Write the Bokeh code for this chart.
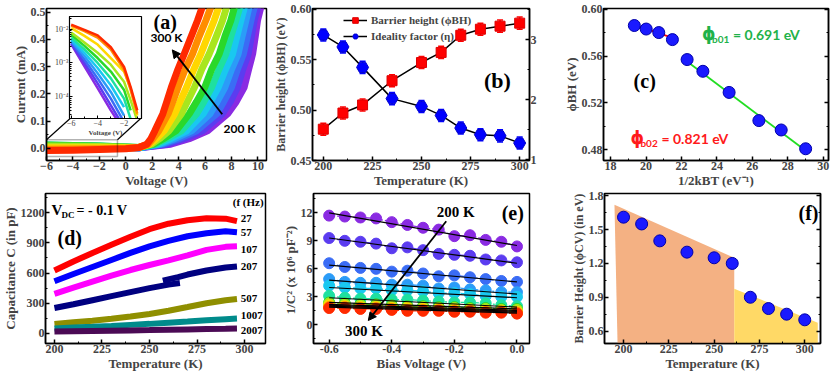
import math
from bokeh.plotting import figure
from bokeh.models import (GridBox, Range1d, LinearAxis, SingleIntervalTicker, Label, Arrow, NormalHead,
                          Whisker, TeeHead, ColumnDataSource, Legend, LegendItem, CustomJSTickFormatter,
                          PrintfTickFormatter, BoxAnnotation, Title)
from bokeh.embed import file_html
from bokeh.resources import INLINE

SERIF = "Liberation Serif"
SANS = "Lato"

# ---------------- data ----------------
temps = [200, 210, 220, 230, 240, 250, 260, 270, 280, 290, 300]
palette = ["#8a2be2", "#5b3cf0", "#3a6cf5", "#2b9cf8", "#19c8f0", "#1ee0a0",
           "#2ad82a", "#a8e61e", "#ffd700", "#ff8c00", "#ff2a00"]

# (a) forward I-V: voltage reached at each current level, 200 K ... 300 K
iv_levels = [0.015, 0.035, 0.064, 0.126, 0.17, 0.224, 0.29, 0.346, 0.41, 0.469, 0.513]
iv_v_at_levels = [
    [3.4, 4.8, 6.19, 7.7, 8.35, 8.96, 9.3, 9.6, 9.8, 9.97, 10.2],
    [3.1, 4.4, 5.8, 7.3, 7.9, 8.45, 8.85, 9.26, 9.5, 9.72, 9.95],
    [2.8, 4.0, 5.35, 6.87, 7.4, 8.0, 8.45, 8.9, 9.2, 9.47, 9.7],
    [2.6, 3.7, 4.97, 6.36, 6.9, 7.5, 8.0, 8.5, 8.8, 9.09, 9.3],
    [2.4, 3.4, 4.6, 5.85, 6.4, 7.0, 7.55, 8.08, 8.4, 8.71, 8.95],
    [2.25, 3.1, 4.2, 5.35, 5.9, 6.5, 7.05, 7.57, 7.95, 8.33, 8.6],
    [2.1, 2.85, 3.8, 4.8, 5.35, 5.98, 6.5, 7.07, 7.5, 7.95, 8.2],
    [1.95, 2.55, 3.27, 4.2, 4.65, 5.2, 5.75, 6.31, 6.85, 7.32, 7.6],
    [1.8, 2.3, 2.9, 3.7, 4.1, 4.6, 5.15, 5.68, 6.2, 6.69, 7.0],
    [1.7, 2.05, 2.5, 3.2, 3.55, 3.96, 4.5, 5.05, 5.55, 6.06, 6.4],
    [1.6, 1.9, 2.2, 2.8, 3.1, 3.45, 3.95, 4.42, 4.95, 5.43, 5.75],
]
iv_flat_v = [-6, -4, -2, 0, 1.0]
iv_flat_i = [
    [0.004, 0.004, 0.003, 0.002, 0.002],
    [0.006, 0.005, 0.004, 0.003, 0.002],
    [0.008, 0.007, 0.005, 0.003, 0.002],
    [0.010, 0.008, 0.006, 0.004, 0.002],
    [0.011, 0.009, 0.007, 0.004, 0.002],
    [0.012, 0.010, 0.008, 0.005, 0.003],
    [0.012, 0.010, 0.008, 0.005, 0.003],
    [0.008, 0.007, 0.006, 0.004, 0.003],
    [0.002, 0.002, 0.002, 0.002, 0.003],
    [-0.004, -0.003, -0.002, 0.000, 0.003],
    [-0.008, -0.007, -0.005, -0.002, 0.003],
]
# inset: reverse current (log scale)
inset_v = [-6, -5, -4, -3, -2, -1.5, -1]
inset_i = [
    [3.6e-3, 7.9e-4, 1.8e-4, 4.0e-5, 1.0e-5],
    [3.8e-3, 1.0e-3, 2.5e-4, 5.6e-5, 1.26e-5],
    [4.2e-3, 1.26e-3, 3.5e-4, 8.9e-5, 1.8e-5],
    [4.5e-3, 1.6e-3, 5.0e-4, 1.4e-4, 2.8e-5],
    [5.0e-3, 2.0e-3, 7.1e-4, 2.2e-4, 5.0e-5],
    [5.6e-3, 2.5e-3, 1.0e-3, 3.5e-4, 8.9e-5, 2.2e-5],
    [6.8e-3, 3.2e-3, 1.4e-3, 5.6e-4, 1.6e-4, 4.0e-5],
    [7.9e-3, 4.0e-3, 2.0e-3, 8.9e-4, 2.8e-4, 7.9e-5, 2.0e-5],
    [1.07e-2, 6.3e-3, 3.5e-3, 1.4e-3, 5.6e-4, 1.8e-4, 2.8e-5],
    [1.26e-2, 8.7e-3, 5.6e-3, 2.5e-3, 6.3e-4, 1.6e-4, 3.2e-5],
    [1.35e-2, 9.5e-3, 6.5e-3, 2.9e-3, 7.6e-4, 1.95e-4, 4.0e-5],
]
zoom_box = dict(left=-6.0, right=-0.63, bottom=-0.030, top=0.031)
zoom_seg_x0 = [-6.0, -0.63]
zoom_seg_y0 = [0.031, 0.031]
zoom_seg_x1 = [-4.15, 1.19]
zoom_seg_y1 = [0.112, 0.112]

# (b)
t_b = [200, 210, 220, 235, 250, 260, 270, 280, 290, 300]
phi_bh = [0.481, 0.497, 0.505, 0.529, 0.547, 0.557, 0.574, 0.580, 0.583, 0.586]
phi_bh_err = [0.006] * 10
eta = [3.08, 2.88, 2.54, 2.02, 1.89, 1.74, 1.53, 1.42, 1.40, 1.28]
eta_err = [0.1] * 10

# (c)
inv_2kt = [19.34, 20.01, 20.72, 21.49, 22.32, 23.21, 24.69, 26.37, 27.63, 29.01]
phi_c = [0.586, 0.583, 0.580, 0.574, 0.557, 0.547, 0.529, 0.505, 0.497, 0.481]
fit1_x = [19.35, 21.5]
fit1_y = [0.5865, 0.5755]
fit2_x = [22.3, 29.0]
fit2_y = [0.5555, 0.4795]

# (d)
t_d = [200, 210, 220, 230, 240, 250, 260, 270, 280, 290, 296]
freqs = ["27", "57", "107", "207", "507", "1007", "2007"]
freq_colors = ["#ff0000", "#0000ff", "#ff00ff", "#000080", "#8f8f00", "#008b8b", "#4b0a55"]
cap = {
    "27": [625, 715, 800, 880, 960, 1035, 1090, 1125, 1145, 1140, 1115],
    "57": [519, 590, 660, 730, 800, 865, 920, 965, 995, 1015, 1005],
    "107": [392, 455, 515, 575, 630, 680, 725, 775, 830, 860, 865],
    "507": [93, 110, 125, 145, 168, 193, 225, 262, 300, 330, 342],
    "1007": [50, 58, 66, 75, 85, 95, 107, 118, 130, 142, 148],
    "2007": [18, 21, 24, 27, 30, 33, 37, 40, 43, 46, 48],
}
t_d207a = [200, 210, 220, 230, 240, 250, 260, 266]
c207a = [253, 290, 330, 370, 410, 450, 485, 500]
t_d207b = [257, 265, 270, 280, 290, 296]
c207b = [525, 560, 585, 625, 655, 665]
freq_label_y = [1146, 1001, 831, 665, 343, 176, 27]

# (e)
v_e = [-0.6, -0.55, -0.5, -0.45, -0.4, -0.35, -0.3, -0.25, -0.2, -0.15, -0.1, -0.05, 0.0]
inv_c2 = [
    [11.7, 11.6, 11.5, 11.4, 11.0, 10.7, 10.4, 10.2, 9.5, 9.6, 9.1, 8.9, 8.4],
    [9.3, 9.0, 8.9, 8.7, 8.2, 8.3, 8.0, 7.6, 7.5, 7.4, 7.0, 6.9, 6.7],
    [6.6, 6.2, 6.1, 6.0, 5.7, 5.8, 5.5, 5.2, 5.3, 5.1, 4.9, 4.7, 4.6],
    [4.9, 4.6, 4.5, 4.5, 4.3, 4.3, 4.2, 3.9, 4.0, 3.8, 3.7, 3.5, 3.5],
    [4.2, 4.0, 3.9, 3.9, 3.7, 3.7, 3.6, 3.4, 3.4, 3.3, 3.1, 3.0, 3.0],
    [3.1, 2.9, 2.8, 2.8, 2.7, 2.7, 2.6, 2.5, 2.4, 2.4, 2.3, 2.1, 2.0],
    [2.4, 2.3, 2.2, 2.2, 2.1, 2.0, 2.0, 1.9, 1.9, 1.8, 1.8, 1.7, 1.7],
    [2.3, 2.2, 2.1, 2.1, 2.0, 1.9, 1.9, 1.8, 1.8, 1.7, 1.7, 1.6, 1.6],
    [2.1, 2.0, 1.9, 1.9, 1.8, 1.8, 1.7, 1.7, 1.6, 1.6, 1.5, 1.5, 1.4],
    [1.9, 1.9, 1.8, 1.8, 1.7, 1.6, 1.6, 1.6, 1.5, 1.5, 1.4, 1.4, 1.3],
    [1.8, 1.8, 1.7, 1.7, 1.6, 1.5, 1.5, 1.5, 1.4, 1.4, 1.3, 1.3, 1.2],
]
fit_e_x = [-0.6, 0.0]
fit_e_start = [12.0, 9.3, 6.4, 4.8, 4.0, 2.9, 2.4, 2.2, 2.1, 2.0, 1.9]
fit_e_end = [8.5, 6.6, 4.6, 3.3, 2.9, 1.9, 1.7, 1.55, 1.45, 1.35, 1.25]

# (f)
t_f = [200, 210, 220, 235, 250, 260, 270, 280, 290, 300]
phi_cv = [1.61, 1.55, 1.40, 1.30, 1.25, 1.20, 0.90, 0.80, 0.75, 0.70]
phi_cv_err = [0.02, 0.04, 0.04, 0.03, 0.03, 0.02, 0.02, 0.02, 0.02, 0.02]
region1_x = [195.0, 261.1, 261.1, 196.7]
region1_y = [1.72, 1.25, 0.49, 0.49]
region2_x = [261.1, 307.2, 307.2, 261.1]
region2_y = [0.976, 0.674, 0.49, 0.49]


# ---------------- helpers ----------------
def style_axis(ax, fs="12px", lfs="13px"):
    ax.major_label_text_font = SERIF
    ax.major_label_text_font_style = "bold"
    ax.major_label_text_font_size = fs
    ax.axis_label_text_font = SERIF
    ax.axis_label_text_font_style = "bold"
    ax.axis_label_text_font_size = lfs
    ax.major_tick_in = 4
    ax.major_tick_out = 0
    ax.minor_tick_in = 2
    ax.minor_tick_out = 0
    ax.axis_line_width = 1.5
    ax.major_tick_line_width = 1.5
    ax.major_label_standoff = 1
    ax.axis_label_standoff = 0


def no_align(p):
    try:
        p.frame_align = False
    except Exception:
        pass


def mkfig(w, h, xr, yr, bl, br, bt, bb, **kw):
    p = figure(width=w, height=h, x_range=Range1d(*xr), y_range=Range1d(*yr),
               output_backend="svg", toolbar_location=None,
               min_border_left=bl, min_border_right=br, min_border_top=bt, min_border_bottom=bb, **kw)
    no_align(p)
    p.xgrid.visible = False
    p.ygrid.visible = False
    p.outline_line_color = "black"
    p.outline_line_width = 1.5
    p.outline_line_alpha = 1
    for ax in list(p.xaxis) + list(p.yaxis):
        style_axis(ax)
    return p


def lab(p, x, y, text, size, font=SERIF, color="black", align="left", baseline="middle",
        xo=0, yo=0, style="bold", **kw):
    p.add_layout(Label(x=x, y=y, text=text, text_font=font, text_font_size=f"{size}px",
                       text_font_style=style, text_color=color, text_align=align,
                       text_baseline=baseline, x_offset=xo, y_offset=yo, **kw))


def mirror_right(p, ticker, range_name=None):
    kw = {"y_range_name": range_name} if range_name else {}
    ax = LinearAxis(ticker=ticker, **kw)
    style_axis(ax)
    ax.major_label_text_font_size = "0px"
    ax.major_label_standoff = 0
    p.add_layout(ax, "right")


# ---------------- (a) ----------------
pa = mkfig(270, 190, (-6.0, 10.65), (-0.045, 0.513), 46, 4, 8, 30)
pa.xaxis.ticker = SingleIntervalTicker(interval=2, num_minor_ticks=2)
pa.yaxis.ticker = SingleIntervalTicker(interval=0.1, num_minor_ticks=2)
pa.yaxis.formatter = PrintfTickFormatter(format="%.1f")
pa.xaxis.axis_label = "Voltage (V)"
pa.yaxis.axis_label = "Current (mA)"
for k in range(len(temps)):
    xs = iv_flat_v + iv_v_at_levels[k]
    ys = iv_flat_i[k] + iv_levels
    pa.line(xs, ys, line_color=palette[k], line_width=7, line_join="round", line_cap="round")
pa.add_layout(BoxAnnotation(fill_alpha=0, line_color="black", line_width=1.5, **zoom_box))
pa.segment(zoom_seg_x0, zoom_seg_y0, zoom_seg_x1, zoom_seg_y1, line_color="black", line_width=1.2)
pa.add_layout(Arrow(end=NormalHead(size=8, fill_color="black", line_color="black"),
                    x_start=7.3, y_start=0.125, x_end=3.52, y_end=0.361, line_width=1.8))
lab(pa, 1.87, 0.405, "300 K", 12, font=SANS)
lab(pa, 7.4, 0.073, "200 K", 12, font=SANS)
lab(pa, 2.1, 0.462, "(a)", 20)

# inset
pin = figure(width=143, height=144, x_range=Range1d(-6.13, -0.68), y_range=Range1d(2.3e-5, 2.35e-2),
             y_axis_type="log", output_backend="svg", toolbar_location=None,
             min_border_left=69, min_border_right=2, min_border_top=16, min_border_bottom=26)
no_align(pin)
pin.border_fill_alpha = 0
pin.background_fill_color = "white"
pin.xgrid.visible = False
pin.ygrid.visible = False
pin.outline_line_color = "black"
pin.outline_line_width = 1.2
for ax in list(pin.xaxis) + list(pin.yaxis):
    style_axis(ax, fs="8px", lfs="7px")
    ax.major_label_text_font_style = "normal"
    ax.major_tick_in = 3
    ax.axis_line_width = 1
    ax.major_tick_line_width = 1
    ax.major_label_standoff = 1
    ax.axis_label_standoff = 0
pin.xaxis.ticker = SingleIntervalTicker(interval=2, num_minor_ticks=2)
pin.xaxis.axis_label = "Voltage (V)"
pin.yaxis.formatter = CustomJSTickFormatter(code="""
const sup = {'-':'\u207b','0':'\u2070','1':'\u00b9','2':'\u00b2','3':'\u00b3','4':'\u2074','5':'\u2075','6':'\u2076'};
const e = Math.round(Math.log10(tick));
return '10' + String(e).split('').map(c => sup[c]).join('');
""")
for k in range(len(temps)):
    n = len(inset_i[k])
    pin.line(inset_v[:n], inset_i[k], line_color=palette[k], line_width=2.5)

# ---------------- (b) ----------------
pb = mkfig(287, 190, (194.5, 305), (0.45, 0.6005), 39, 28, 8, 30)
pb.extra_y_ranges = {"eta": Range1d(0.99, 3.52)}
pb.xaxis.ticker = SingleIntervalTicker(interval=25, num_minor_ticks=2)
pb.yaxis.ticker = SingleIntervalTicker(interval=0.05, num_minor_ticks=2)
pb.yaxis.formatter = PrintfTickFormatter(format="%.2f")
pb.xaxis.axis_label = "Temperature (K)"
pb.yaxis.axis_label = "Barrier height (\u03d5BH) (eV)"
pb.yaxis.axis_label_text_font_size = "12px"
ax2 = LinearAxis(y_range_name="eta", ticker=SingleIntervalTicker(interval=1, num_minor_ticks=2))
style_axis(ax2)
pb.add_layout(ax2, "right")
lab(pb, 313.1, 0.525, "Ideality factor (\u03b7)", 12, align="center", angle=math.pi / 2)

src_bh = ColumnDataSource(dict(x=t_b, y=phi_bh,
                               lo=[v - e for v, e in zip(phi_bh, phi_bh_err)],
                               hi=[v + e for v, e in zip(phi_bh, phi_bh_err)]))
src_eta = ColumnDataSource(dict(x=t_b, y=eta,
                                lo=[v - e for v, e in zip(eta, eta_err)],
                                hi=[v + e for v, e in zip(eta, eta_err)]))
l_bh = pb.line("x", "y", source=src_bh, line_color="black", line_width=1.5)
l_eta = pb.line("x", "y", source=src_eta, line_color="black", line_width=1.5, y_range_name="eta")
pb.add_layout(Whisker(source=src_bh, base="x", upper="hi", lower="lo", line_color="#ff0000", line_width=1.5,
                      upper_head=TeeHead(size=6, line_color="#ff0000", line_width=1.5),
                      lower_head=TeeHead(size=6, line_color="#ff0000", line_width=1.5)))
pb.add_layout(Whisker(source=src_eta, base="x", upper="hi", lower="lo", y_range_name="eta",
                      line_color="#0000ff", line_width=1.5,
                      upper_head=TeeHead(size=6, line_color="#0000ff", line_width=1.5),
                      lower_head=TeeHead(size=6, line_color="#0000ff", line_width=1.5)))
s_bh = pb.scatter("x", "y", source=src_bh, marker="square", size=10, fill_color="#ff0000", line_color="#dd0000")
s_eta = pb.scatter("x", "y", source=src_eta, marker="hex", size=12, fill_color="#0000ff", line_color="#0000cc",
                   y_range_name="eta")
leg = Legend(items=[LegendItem(label="Barrier height (\u03d5BH)", renderers=[l_bh, s_bh]),
                    LegendItem(label="Ideality factor (\u03b7)", renderers=[l_eta, s_eta])],
             location=(30, 116), background_fill_alpha=0, border_line_alpha=0,
             label_text_font=SERIF, label_text_font_style="bold", label_text_font_size="11px",
             glyph_width=24, glyph_height=14, label_height=15, spacing=1, padding=1, margin=0,
             label_standoff=4)
pb.add_layout(leg)
lab(pb, 281.8, 0.529, "(b)", 22)

# ---------------- (c) ----------------
pc = mkfig(274, 190, (17.6, 30.3), (0.471, 0.6005), 46, 3, 8, 30)
pc.xaxis.ticker = SingleIntervalTicker(interval=2, num_minor_ticks=2)
pc.yaxis.ticker = SingleIntervalTicker(interval=0.04, num_minor_ticks=2)
pc.yaxis.formatter = PrintfTickFormatter(format="%.2f")
pc.xaxis.axis_label = "1/2kBT (eV\u207b\u00b9)"
pc.yaxis.axis_label = "\u03d5BH (eV)"
mirror_right(pc, SingleIntervalTicker(interval=0.04, num_minor_ticks=2))
pc.line(fit1_x, fit1_y, line_color="#ff0000", line_width=1.8)
pc.line(fit2_x, fit2_y, line_color="#22dd22", line_width=1.8)
pc.scatter(inv_2kt, phi_c, marker="circle", size=12, fill_color="#1a1aff", line_color="#0000aa")
lab(pc, 23.16, 0.5786, "\u03d5", 17, font="DejaVu Sans", color="#1fb24a")
lab(pc, 23.16, 0.5786, "b01", 10, font=SANS, color="#1fb24a", xo=10, yo=-5)
lab(pc, 23.16, 0.5786, "= 0.691 eV", 14, font=SANS, color="#1fb24a", xo=31)
lab(pc, 19.12, 0.49, "\u03d5", 17, font="DejaVu Sans", color="#ff1a1a")
lab(pc, 19.12, 0.49, "b02", 10, font=SANS, color="#ff1a1a", xo=10, yo=-5)
lab(pc, 19.12, 0.49, "= 0.821 eV", 14, font=SANS, color="#ff1a1a", xo=31)
lab(pc, 19.3, 0.5385, "(c)", 20)

# ---------------- (d) ----------------
pd = mkfig(270, 186, (195.3, 311), (-100, 1390), 45, 5, 3, 33)
pd.xaxis.ticker = SingleIntervalTicker(interval=25, num_minor_ticks=2)
pd.yaxis.ticker = SingleIntervalTicker(interval=300, num_minor_ticks=2)
pd.xaxis.axis_label = "Temperature (K)"
pd.add_layout(Title(text="Capacitance C (in pF)", align="center", standoff=0, offset=0,
                    text_font=SERIF, text_font_style="bold", text_font_size="13px"), "left")
for f, c, ly in zip(freqs, freq_colors, freq_label_y):
    if f == "207":
        pd.line(t_d207a, c207a, line_color=c, line_width=6)
        pd.line(t_d207b, c207b, line_color=c, line_width=6)
    else:
        pd.line(t_d, cap[f], line_color=c, line_width=6)
    lab(pd, 298, ly, f, 11)
lab(pd, 310, 1303, "(f (Hz)", 11, align="right")
lab(pd, 198.5, 1222, "V", 15)
lab(pd, 198.5, 1222, "DC", 9, xo=10, yo=-5)
lab(pd, 198.5, 1222, "= - 0.1 V", 14, xo=25)
lab(pd, 201.6, 944, "(d)", 20)

# ---------------- (e) ----------------
pe = mkfig(287, 186, (-0.65, 0.04), (-2.0, 14.07), 43, 28, 3, 33)
pe.xaxis.ticker = SingleIntervalTicker(interval=0.2, num_minor_ticks=2)
pe.xaxis.formatter = PrintfTickFormatter(format="%.1f")
pe.yaxis.ticker = SingleIntervalTicker(interval=3, num_minor_ticks=2)
pe.xaxis.axis_label = "Bias Voltage (V)"
pe.yaxis.axis_label = "1/C\u00b2  (x 10\u2076 pF\u207b\u00b2)"
for k in range(len(temps)):
    pe.line(v_e, inv_c2[k], line_color=palette[k], line_width=1.3, line_dash="6 2 2 2")
    pe.scatter(v_e, inv_c2[k], marker="circle", size=11, fill_color=palette[k], line_color=palette[k])
for k in range(len(temps)):
    pe.line(fit_e_x, [fit_e_start[k], fit_e_end[k]], line_color="black", line_width=1.2)
pe.add_layout(Arrow(end=NormalHead(size=8, fill_color="black", line_color="black"),
                    x_start=-0.226, y_start=11.1, x_end=-0.475, y_end=0.46, line_width=1.8))
lab(pe, -0.256, 12.07, "200 K", 15)
lab(pe, -0.549, -0.61, "300 K", 15)
lab(pe, 0.022, 12.0, "(e)", 20, align="right")

# ---------------- (f) ----------------
pf = mkfig(274, 186, (189.5, 308.7), (0.49, 1.82), 47, 11, 3, 33)
pf.xaxis.ticker = SingleIntervalTicker(interval=25, num_minor_ticks=2)
pf.yaxis.ticker = SingleIntervalTicker(interval=0.3, num_minor_ticks=2)
pf.yaxis.formatter = PrintfTickFormatter(format="%.1f")
pf.xaxis.axis_label = "Temperature (K)"
pf.yaxis.axis_label = "Barrier Height (\u03d5CV) (in eV)"
pf.yaxis.axis_label_text_font_size = "12px"
mirror_right(pf, SingleIntervalTicker(interval=0.3, num_minor_ticks=2))
pf.patch(region1_x, region1_y, fill_color="#f4b183", line_color=None)
pf.patch(region2_x, region2_y, fill_color="#ffd966", line_color=None)
src_f = ColumnDataSource(dict(x=t_f, y=phi_cv,
                              lo=[v - e for v, e in zip(phi_cv, phi_cv_err)],
                              hi=[v + e for v, e in zip(phi_cv, phi_cv_err)]))
pf.add_layout(Whisker(source=src_f, base="x", upper="hi", lower="lo", line_color="#0000aa", line_width=1.2,
                      upper_head=TeeHead(size=5, line_color="#0000aa", line_width=1.2),
                      lower_head=TeeHead(size=5, line_color="#0000aa", line_width=1.2)))
pf.scatter("x", "y", source=src_f, marker="circle", size=12, fill_color="#1a1aff", line_color="#0000aa")
lab(pf, 307.6, 1.65, "(f)", 20, align="right")

layout = GridBox(children=[(pa, 0, 0), (pin, 0, 0), (pb, 0, 1), (pc, 0, 2),
                           (pd, 1, 0), (pe, 1, 1), (pf, 1, 2)])

open("out.html", "w").write(file_html(layout, INLINE))
